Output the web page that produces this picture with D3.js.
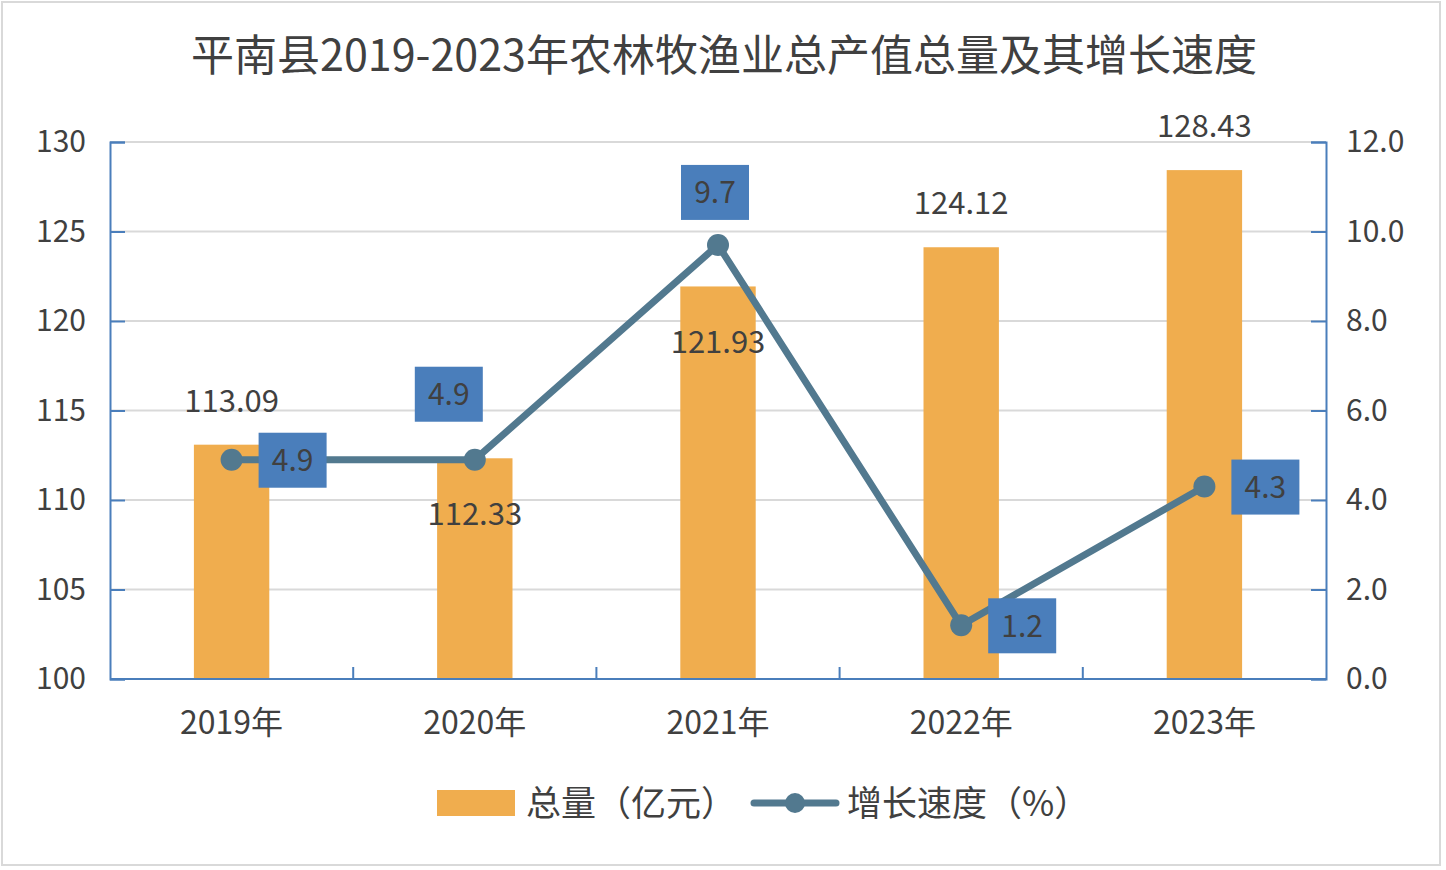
<!DOCTYPE html>
<html>
<head>
<meta charset="utf-8">
<style>
  body { margin: 0; background: #fff; }
  svg text { font-family: "Noto Sans CJK SC", "Noto Sans", sans-serif; fill: #404040; }
</style>
<script src="https://d3js.org/d3.v7.min.js"></script>
</head>
<body>
<svg width="1446" height="870"></svg>
<script>
const years = ["2019年", "2020年", "2021年", "2022年", "2023年"];
const total = [113.09, 112.33, 121.93, 124.12, 128.43];
const growth = [4.9, 4.9, 9.7, 1.2, 4.3];
const leftTicks = [100, 105, 110, 115, 120, 125, 130];
const rightTicks = [0, 2, 4, 6, 8, 10, 12];

const svg = d3.select("svg");
const m = { left: 110, right: 1326, top: 142, bottom: 679 };

const barColor = "#F0AD4E";
const lineColor = "#52798F";
const boxColor = "#4A7EBB";
const axisColor = "#4A7EBB";

// label placement, as Excel left it
const totalLabelAbove = [true, false, false, true, true];
const growthBoxOffset = [[27, -27], [-60, -93], [-37, -80], [27, -27], [27, -27]];

// chart border
svg.append("rect")
  .attr("x", 2).attr("y", 2).attr("width", 1438).attr("height", 863)
  .attr("fill", "#fff").attr("stroke", "#d9d9d9").attr("stroke-width", 2);

svg.append("text")
  .attr("x", 724).attr("y", 71)
  .attr("text-anchor", "middle")
  .style("font-size", "43px")
  .text("平南县2019-2023年农林牧渔业总产值总量及其增长速度");

const x = d3.scaleBand().domain(years).range([m.left, m.right]).paddingInner(0).paddingOuter(0);
const yL = d3.scaleLinear().domain([100, 130]).range([m.bottom, m.top]);
const yR = d3.scaleLinear().domain([0, 12]).range([m.bottom, m.top]);

// gridlines
svg.append("g").selectAll("line")
  .data(leftTicks.filter(d => d > 100))
  .join("line")
  .attr("x1", m.left).attr("x2", m.right)
  .attr("y1", d => yL(d)).attr("y2", d => yL(d))
  .attr("stroke", "#d9d9d9").attr("stroke-width", 2);

// bars
const bw = x.bandwidth() * 0.31;
svg.append("g").selectAll("rect")
  .data(total)
  .join("rect")
  .attr("x", (d, i) => x(years[i]) + x.bandwidth() / 2 - bw / 2)
  .attr("y", d => yL(d))
  .attr("width", bw)
  .attr("height", d => yL(100) - yL(d))
  .attr("fill", barColor);

// left axis
const axL = svg.append("g")
  .attr("transform", `translate(${m.left},0)`)
  .call(d3.axisLeft(yL).tickValues(leftTicks).tickSize(-15).tickPadding(24).tickFormat(d3.format("d")));
axL.select(".domain").attr("stroke", axisColor).attr("stroke-width", 2);
axL.selectAll(".tick line").attr("stroke", axisColor).attr("stroke-width", 2);
axL.selectAll("text").style("font-size", "30px").attr("fill", "#404040")
  .attr("font-family", null);

// right axis
const axR = svg.append("g")
  .attr("transform", `translate(${m.right},0)`)
  .call(d3.axisRight(yR).tickValues(rightTicks).tickSize(-15).tickPadding(20).tickFormat(d3.format(".1f")));
axR.select(".domain").attr("stroke", axisColor).attr("stroke-width", 2);
axR.selectAll(".tick line").attr("stroke", axisColor).attr("stroke-width", 2);
axR.selectAll("text").style("font-size", "30px").attr("fill", "#404040")
  .attr("font-family", null);

// bottom axis with ticks between categories
const axB = svg.append("g").attr("transform", `translate(0,${m.bottom})`);
axB.append("line")
  .attr("x1", m.left).attr("x2", m.right)
  .attr("stroke", axisColor).attr("stroke-width", 2);
axB.selectAll(".sep")
  .data(years.slice(1))
  .join("line")
  .attr("class", "sep")
  .attr("x1", d => x(d)).attr("x2", d => x(d))
  .attr("y1", 0).attr("y2", -12)
  .attr("stroke", axisColor).attr("stroke-width", 2);
axB.selectAll("text")
  .data(years)
  .join("text")
  .attr("x", d => x(d) + x.bandwidth() / 2)
  .attr("y", 55)
  .attr("text-anchor", "middle")
  .style("font-size", "32px")
  .text(d => d);

// bar labels
svg.append("g").selectAll("text")
  .data(total)
  .join("text")
  .attr("x", (d, i) => x(years[i]) + x.bandwidth() / 2)
  .attr("y", (d, i) => totalLabelAbove[i] ? yL(d) - 33 : yL(d) + 67)
  .attr("text-anchor", "middle")
  .style("font-size", "31px")
  .text(d => d.toFixed(2));

// growth line
const cx = i => x(years[i]) + x.bandwidth() / 2;
svg.append("path")
  .datum(growth)
  .attr("d", d3.line().x((d, i) => cx(i)).y(d => yR(d)))
  .attr("fill", "none")
  .attr("stroke", lineColor)
  .attr("stroke-width", 7)
  .attr("stroke-linejoin", "round");

svg.append("g").selectAll("circle")
  .data(growth)
  .join("circle")
  .attr("cx", (d, i) => cx(i))
  .attr("cy", d => yR(d))
  .attr("r", 11)
  .attr("fill", lineColor);

// growth labels in boxes
const bwBox = 68, bhBox = 55;
const gl = svg.append("g").selectAll("g")
  .data(growth)
  .join("g")
  .attr("transform", (d, i) => {
    const [dx, dy] = growthBoxOffset[i];
    return `translate(${cx(i) + dx},${yR(d) + dy})`;
  });
gl.append("rect")
  .attr("width", bwBox).attr("height", bhBox)
  .attr("fill", boxColor);
gl.append("text")
  .attr("x", bwBox / 2).attr("y", bhBox / 2 + 11)
  .attr("text-anchor", "middle")
  .style("font-size", "30px")
  .text(d => d.toFixed(1));

// legend
const lg = svg.append("g").attr("transform", "translate(0,803)");
lg.append("rect").attr("x", 437).attr("y", -13).attr("width", 78).attr("height", 26).attr("fill", barColor);
lg.append("text").attr("x", 526).attr("y", 13).style("font-size", "35px").text("总量（亿元）");
lg.append("line").attr("x1", 754).attr("x2", 836).attr("y1", 0).attr("y2", 0)
  .attr("stroke", lineColor).attr("stroke-width", 7).attr("stroke-linecap", "round");
lg.append("circle").attr("cx", 795).attr("cy", 0).attr("r", 10).attr("fill", lineColor);
lg.append("text").attr("x", 847).attr("y", 13).style("font-size", "35px").text("增长速度（%）");
</script>
</body>
</html>
